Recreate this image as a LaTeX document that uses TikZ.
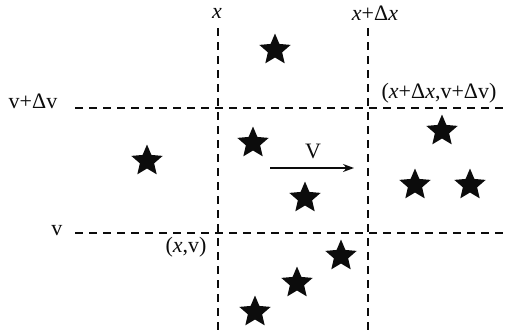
\documentclass[tikz,border=0pt]{standalone}
\usepackage{fontspec}
\setmainfont{Liberation Serif}
\usepackage{tikz}
\usetikzlibrary{arrows.meta,positioning,shapes.geometric}
\definecolor{ink}{RGB}{12,12,12}

\tikzset{
  grid/.style={draw=ink,line width=1.4pt,dash pattern=on 8pt off 6pt},
  particle/.style={star,star points=5,star point ratio=2.2,fill=ink,
    inner sep=0pt,minimum size=33pt},
  lbl/.style={text=ink,inner sep=1pt,font=\fontsize{22}{25}\selectfont}
}

\begin{document}
\begin{tikzpicture}[x=1pt,y=-1pt]
    \useasboundingbox (0,0) rectangle (507,330);
    % cell boundaries
    \coordinate (xtop) at (218,28);
    \coordinate (xbot) at (218,330);
    \coordinate (dxtop) at (368,28);
    \coordinate (dxbot) at (368,330);
    \coordinate (dvleft) at (75,108);
    \coordinate (dvright) at (507,108);
    \coordinate (vleft) at (75,233);
    \coordinate (vright) at (507,233);
    \draw[grid] (xtop) -- (xbot);
    \draw[grid] (dxtop) -- (dxbot);
    \draw[grid] (dvleft) -- (dvright);
    \draw[grid] (vleft) -- (vright);
    % labels
    \node[lbl] (xlab) at (217,13) {\textit{x}};
    \node[lbl] (dxlab) at (375,13) {\textit{x}+Δ\textit{x}};
    \node[lbl] (dvlab) at (33,101) {v+Δv};
    \node[lbl] (cornerhi) at (439,93) {(\textit{x}+Δ\textit{x},v+Δv)};
    \node[lbl] (vlab) at (57,231) {v};
    \node[lbl] (cornerlo) at (186,247) {(\textit{x},v)};
    \node[lbl] (speed) at (313,151) {V};
    % drift arrow
    \coordinate (vtail) at (270,168);
    \coordinate (vhead) at (354,168);
    \draw[ink,line width=1.3pt,-{Stealth[length=11pt,width=8pt]}] (vtail) -- (vhead);
    % particles
    \node[particle] (s1) at (275,50) {};
    \node[particle] (s2) at (253,143) {};
    \node[particle] (s3) at (147,161) {};
    \node[particle] (s4) at (305,198) {};
    \node[particle] (s5) at (442,131) {};
    \node[particle] (s6) at (415,185) {};
    \node[particle] (s7) at (470,185) {};
    \node[particle] (s8) at (341,256) {};
    \node[particle] (s9) at (297,283) {};
    \node[particle] (s10) at (255,312) {};
\end{tikzpicture}
\end{document}
